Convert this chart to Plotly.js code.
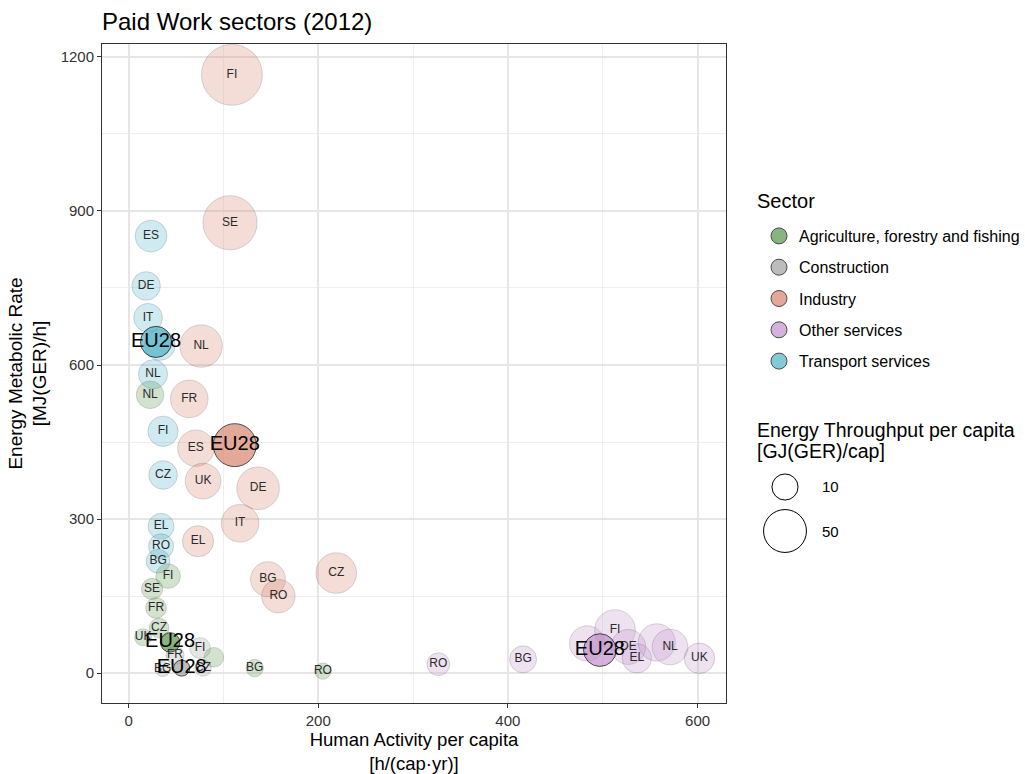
<!DOCTYPE html>
<html><head><meta charset="utf-8">
<script src="https://cdn.plot.ly/plotly-3.0.1.min.js"></script>
<style>html,body{margin:0;padding:0;background:#fff}#chart{width:1025px;height:774px}</style>
</head><body><div id="chart"></div>
<script>
// ---------- data ----------
const sectors = ["Agriculture, forestry and fishing", "Construction", "Industry", "Other services", "Transport services"];

// Agriculture, forestry and fishing (countries)
const agriCountry = ["NL", "FI", "SE", "FR", "CZ", "UK", "", "BG", "RO"];
const agriHA      = [22.7, 41.7, 24.8, 29, 32.2, 15.3, 90, 133, 205];
const agriEMR     = [542, 189, 164, 127, 88, 70, 31, 10, 4];
const agriET      = [12.3, 7.9, 4.1, 3.7, 2.8, 1.1, 2.8, 1.3, 0.8];

// Construction
const consCountry = ["FI", "FR", "BG", "CZ"];
const consHA      = [75.4, 49, 36, 78.6];
const consEMR     = [49, 35, 8, 10];
const consET      = [3.7, 1.7, 0.3, 0.8];

// Industry
const indCountry = ["FI", "SE", "NL", "FR", "ES", "UK", "DE", "IT", "EL", "BG", "RO", "CZ"];
const indHA      = [109, 107, 76.5, 64, 71, 78.6, 136.6, 117.6, 73.3, 147, 158, 219];
const indEMR     = [1165, 877, 637, 534, 438, 374, 360, 292, 257, 183, 150, 195];
const indET      = [127, 94, 48.7, 34, 31, 29.4, 49, 34, 18.8, 27, 23.7, 42.7];

// Other services
const othCountry = ["RO", "BG", "", "FI", "DE", "EL", "", "NL", "UK"];
const othHA      = [326.7, 416, 483.6, 513, 527, 536, 557, 571, 602];
const othEMR     = [17.5, 27, 58, 84, 51, 29, 60, 51, 29];
const othET      = [5.7, 11.3, 28, 43, 27, 15.5, 33, 29, 17.5];

// Transport services
const traCountry = ["ES", "DE", "IT", "", "NL", "FI", "CZ", "EL", "RO", "BG"];
const traHA      = [23.7, 18.5, 20.6, 33, 25.8, 36.4, 36.4, 34.3, 34.3, 31.1];
const traEMR     = [851, 754, 692, 639, 582, 471, 386, 286, 247, 218];
const traET      = [20.2, 13.9, 14.2, 18, 15, 17.1, 14, 9.8, 8.5, 6.8];

// EU28 averages, in sector order
const eu28Label = ["EU28", "EU28", "EU28", "EU28", "EU28"];
const eu28HA    = [43.8, 56, 112, 497, 29];
const eu28EMR   = [60, 10, 444, 45, 645];
const eu28ET    = [2.6, 0.7, 50, 22, 18.7];

// size legend values
const sizeLegendValues = [10, 50];

// ---------- styling ----------
const FONT = "Liberation Sans, Arial, Helvetica, sans-serif";
const colors = ["#4E8F3D", "#9C9C9C", "#D67D64", "#BF8CC9", "#46B0C4"];
function bubbleSize(et) { return 12.5 + 4.3 * Math.sqrt(et); }
function rgba(hex, a) {
  const n = parseInt(hex.slice(1), 16);
  return `rgba(${(n >> 16) & 255},${(n >> 8) & 255},${n & 255},${a})`;
}

const groups = [
  {c: agriCountry, x: agriHA, y: agriEMR, s: agriET},
  {c: consCountry, x: consHA, y: consEMR, s: consET},
  {c: indCountry, x: indHA, y: indEMR, s: indET},
  {c: othCountry, x: othHA, y: othEMR, s: othET},
  {c: traCountry, x: traHA, y: traEMR, s: traET}
];

const traces = [];
groups.forEach((g, i) => {
  traces.push({
    type: "scatter", mode: "markers", x: g.x, y: g.y, text: g.c,
    showlegend: false, hoverinfo: "text", cliponaxis: false,
    marker: {size: g.s.map(bubbleSize), color: rgba(colors[i], 0.36),
             line: {color: "rgba(40,40,40,0.25)", width: 1}}
  });
});
groups.forEach((g, i) => {
  traces.push({
    type: "scatter", mode: "markers", name: sectors[i],
    x: [eu28HA[i]], y: [eu28EMR[i]],
    legendgroup: "g" + i, legendrank: i + 1, cliponaxis: false,
    marker: {size: [bubbleSize(eu28ET[i])], color: rgba(colors[i], 0.95),
             line: {color: "#000", width: 1}}
  });
});
groups.forEach((g, i) => {
  traces.push({
    type: "scatter", mode: "text", x: g.x, y: g.y, text: g.c,
    textposition: "middle center", showlegend: false, hoverinfo: "skip", cliponaxis: false,
    textfont: {family: FONT, size: 12, color: "#2a2a2a"}
  });
});
traces.push({
  type: "scatter", mode: "text", x: eu28HA, y: eu28EMR, text: eu28Label,
  textposition: "middle center", showlegend: false, hoverinfo: "skip", cliponaxis: false,
  textfont: {family: FONT, size: 20, color: "#000"}
});

// size legend drawn with shapes + annotations (pixel-sized circles)
const pxX = px => (px - 102) / 624;
const pxY = py => (703 - py) / 659;
const sizeRowsY = [487, 531];
const shapes = [];
const annotations = [];
sizeLegendValues.forEach((v, k) => {
  const r = bubbleSize(v) / 2;
  shapes.push({
    type: "circle", xref: "paper", yref: "paper",
    xsizemode: "pixel", ysizemode: "pixel",
    xanchor: pxX(785), yanchor: pxY(sizeRowsY[k]),
    x0: -r, x1: r, y0: -r, y1: r,
    line: {color: "#000", width: 1}, fillcolor: "rgba(0,0,0,0)"
  });
  annotations.push({
    xref: "paper", yref: "paper", x: pxX(820), y: pxY(sizeRowsY[k]),
    xanchor: "left", yanchor: "middle", showarrow: false, text: String(v),
    font: {family: FONT, size: 15, color: "#000"}
  });
});
const sizeTitleLines = ["Energy Throughput per capita", "[GJ(GER)/cap]"];
const sizeTitleY = [430, 451];
sizeTitleLines.forEach((t, k) => {
  annotations.push({
    xref: "paper", yref: "paper", x: pxX(755), y: pxY(sizeTitleY[k]),
    xanchor: "left", yanchor: "middle", align: "left", showarrow: false,
    text: t, font: {family: FONT, size: 19.5, color: "#000"}
  });
});
// colour legend title
annotations.push({
  xref: "paper", yref: "paper", x: pxX(755), y: pxY(201),
  xanchor: "left", yanchor: "middle", showarrow: false,
  text: "Sector", font: {family: FONT, size: 20, color: "#000"}
});

const axisCommon = {
  showline: true, mirror: true, linecolor: "#333", linewidth: 1,
  ticks: "outside", ticklen: 4, tickcolor: "#333", tickwidth: 1,
  showgrid: true, gridcolor: "#E6E6E6", gridwidth: 1.5, zeroline: false,
  tickfont: {family: FONT, size: 15, color: "#333"}
};

const layout = {
  width: 1025, height: 774,
  paper_bgcolor: "#fff", plot_bgcolor: "#fff",
  margin: {l: 102, r: 299, t: 44, b: 71, autoexpand: false},
  font: {family: FONT, color: "#000"},
  title: {text: "Paid Work sectors (2012)", x: 0, xref: "paper", xanchor: "left",
          y: 1 - 22 / 774, yref: "container", yanchor: "middle",
          font: {family: FONT, size: 24, color: "#000"}},
  xaxis: Object.assign({}, axisCommon, {
    range: [-28, 630], tickvals: [0, 200, 400, 600],
    minor: {tickvals: [100, 300, 500], showgrid: true, gridcolor: "#EFEFEF", gridwidth: 1, ticks: ""},
    title: {text: "Human Activity per capita<br>[h/(cap·yr)]", standoff: 9,
            font: {family: FONT, size: 18.5, color: "#000"}}
  }),
  yaxis: Object.assign({}, axisCommon, {
    range: [-58, 1225], tickvals: [0, 300, 600, 900, 1200],
    minor: {tickvals: [150, 450, 750, 1050], showgrid: true, gridcolor: "#EFEFEF", gridwidth: 1, ticks: ""},
    title: {text: "Energy Metabolic Rate<br>[MJ(GER)/h]", standoff: 8,
            font: {family: FONT, size: 19, color: "#000"}}
  }),
  legend: {
    x: pxX(759), y: pxY(219), xanchor: "left", yanchor: "top",
    font: {family: FONT, size: 16, color: "#000"},
    tracegroupgap: 7.5, itemsizing: "trace", bgcolor: "rgba(0,0,0,0)"
  },
  shapes: shapes,
  annotations: annotations,
  hovermode: "closest"
};

Plotly.newPlot("chart", traces, layout, {displayModeBar: false, staticPlot: false});
</script>
</body></html>
